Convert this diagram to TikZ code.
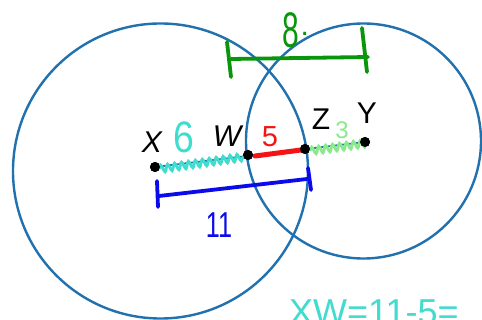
\documentclass[tikz,border=0pt]{standalone}
\usepackage{fontspec}
\setmainfont{Liberation Sans}
\usetikzlibrary{decorations.pathmorphing}
\definecolor{circblue}{RGB}{33,113,175}
\definecolor{teal2}{RGB}{64,220,205}
\definecolor{lgreen}{RGB}{140,232,140}
\definecolor{hred}{RGB}{245,20,20}
\definecolor{hblue}{RGB}{10,10,235}
\definecolor{hgreen}{RGB}{10,150,10}
\tikzset{
  pt/.style={circle,fill=black,inner sep=0pt,minimum size=10pt},
  ring/.style={draw=circblue,line width=2.4pt},
  lbl/.style={font=\fontsize{30}{32}\selectfont,inner sep=0pt},
  hand/.style={font=\fontsize{#1}{#1}\selectfont,inner sep=0pt},
  wavy/.style={decorate,decoration={snake,amplitude=3.6pt,segment length=7pt},line width=2.8pt},
  brk/.style={line width=3.8pt,line cap=round}
}
\begin{document}
\begin{tikzpicture}[x=1pt,y=-1pt]
\useasboundingbox (0,0) rectangle (482,320);
\fill[white] (0,0) rectangle (482,320);
\coordinate (cL) at (160.5,171);
\coordinate (cR) at (363.5,141);
\draw[ring] (cL) circle[radius=147.5pt];
\draw[ring] (cR) circle[radius=117.5pt];
% points
\node[pt] (X) at (155,167) {};
\node[pt] (W) at (248,155) {};
\node[pt] (Z) at (305,149) {};
\node[pt] (Y) at (365,142) {};
\draw[circblue,line width=1.8pt] (X) -- (Y);
\draw[teal2,wavy] ([xshift=4pt,yshift=-2pt]X.center) -- ([xshift=-4pt,yshift=-2pt]W.center);
\draw[hred,line width=5pt,line cap=round] ([xshift=7pt,yshift=-1pt]W.center) -- ([xshift=-4pt,yshift=-1pt]Z.center);
\draw[lgreen,wavy] ([xshift=5pt,yshift=-2pt]Z.center) -- ([xshift=3pt,yshift=-1pt]Y.center);
\node[pt] at (X) {};
\node[pt] at (W) {};
\node[pt] at (Z) {};
\node[pt] at (Y) {};
% labels
\node[lbl] (lX) at (152,142) {\itshape X};
\node[lbl] (lW) at (227,136) {\itshape W};
\node[lbl] (lZ) at (321,119) {Z};
\node[lbl] (lY) at (367,113) {Y};
\node[hand=44,text=teal2] (n6) at (184,137) {\scalebox{0.85}[1]{6}};
\node[hand=29,text=hred] (n5) at (270,137) {5};
\node[hand=24,text=lgreen] (n3) at (342,130) {3};
\node[hand=36,text=hblue] (n11) at (219,225) {\scalebox{0.7}[1]{11}};
\node[hand=50,text=hgreen] (n8) at (296,30) {\scalebox{0.6}[1]{8}\hspace{1pt}\raisebox{12pt}{\fontsize{30}{30}\selectfont.}};
% blue bracket
\coordinate (b1) at (157,181);
\coordinate (b2) at (158,207);
\coordinate (b3) at (159,196);
\coordinate (b4) at (307,179);
\coordinate (b5) at (308,168);
\coordinate (b6) at (311,190);
\draw[hblue,brk] (b1) -- (b2);
\draw[hblue,brk] (b3) -- (b4);
\draw[hblue,brk] (b5) -- (b6);
% green bracket
\coordinate (g1) at (227,42);
\coordinate (g2) at (231,77);
\coordinate (g3) at (231,59);
\coordinate (g4) at (368,57);
\coordinate (g5) at (362,28);
\coordinate (g6) at (367,72);
\draw[hgreen,brk] (g1) -- (g2);
\draw[hgreen,brk] (g3) -- (g4);
\draw[hgreen,brk] (g5) -- (g6);
% bottom note (cut off at the lower edge, as in the reference)
\node[hand=36,text=teal2,anchor=north west] (note) at (289,300) {XW=11-5=};
\end{tikzpicture}
\end{document}
